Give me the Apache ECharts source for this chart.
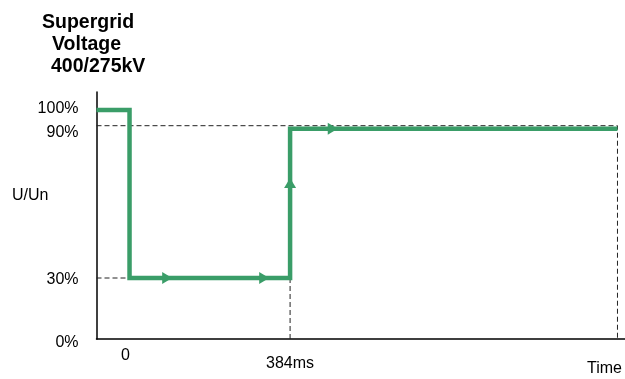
<!DOCTYPE html>
<html>
<head>
<meta charset="utf-8">
<script src="https://cdn.jsdelivr.net/npm/echarts@6/dist/echarts.min.js"></script>
<style>
  html, body { margin: 0; padding: 0; background: #fff; }
  #chart { width: 625px; height: 379px; }
</style>
</head>
<body>
<div id="chart"></div>
<script>
// voltage step profile (time in ms, voltage in % of Un)
const stepTimes = [-79, 0, 0, 384, 384, 1167]
const stepVoltage = [100, 100, 30, 30, 88.8, 88.8]

// direction arrows on the profile
const arrowTimes = [90, 322, 384, 486]
const arrowVoltage = [30, 30, 67.4, 88.8]
const arrowAngles = [-90, -90, 0, -90]

// dashed guide lines
const guide90Times = [-79, 1167, 1167]
const guide90Voltage = [90, 90, 0]
const guide30Times = [-79, 0]
const guide30Voltage = [30, 30]
const guide384Times = [384, 384]
const guide384Voltage = [30, 0]

const xTicks = [0, 384]
const xTickLabels = ['0', '384ms']
const yTicks = [0, 30, 90, 100]
const yTickLabels = ['0%', '30%', '90%', '100%']

// the drawing is schematic: levels are not spaced linearly
const yStopHeights = [0, 61, 213.3, 229]
function toAxis(p) {
    for (let i = 1; i < yTicks.length; i++) {
        if (p <= yTicks[i] || i === yTicks.length - 1) {
            const t = (p - yTicks[i - 1]) / (yTicks[i] - yTicks[i - 1])
            return yStopHeights[i - 1] + t * (yStopHeights[i] - yStopHeights[i - 1])
        }
    }
}
function pairs(xs, ys) {
    return xs.map((x, i) => [x, toAxis(ys[i])])
}

const green = '#3a9d68'
const font = 'Liberation Sans, Arial, sans-serif'

let myChart = echarts.init(document.getElementById('chart'))
const dashStyle = { color: '#222', width: 1, type: [5, 3] }
let option = {
    animation: false,
    title: [
        { text: 'Supergrid', left: 42, top: 12 },
        { text: 'Voltage', left: 52, top: 34 },
        { text: '400/275kV', left: 51, top: 56 }
    ].map(t => Object.assign(t, {
        padding: 0,
        textStyle: { fontFamily: font, fontSize: 19.5, fontWeight: 'bold', color: '#000', lineHeight: 21 }
    })),
    grid: { left: 96.5, right: 0, top: 92, bottom: 40, outerBoundsMode: 'none', containLabel: false },
    xAxis: {
        type: 'value',
        min: -79,
        max: 1185,
        splitLine: { show: false },
        axisTick: { show: false },
        axisLine: { show: true, onZero: false, lineStyle: { color: '#000', width: 1.5 } },
        axisLabel: {
            customValues: xTicks,
            margin: 9,
            fontFamily: font,
            fontSize: 16,
            color: '#000',
            formatter: function (v) {
                const i = xTicks.indexOf(v)
                return i === 0 ? '{a|' + xTickLabels[i] + '}' : '{b|' + xTickLabels[i] + '}'
            },
            rich: {
                a: { fontFamily: font, fontSize: 16, color: '#000', lineHeight: 16, padding: [0, 8, 0, 0] },
                b: { fontFamily: font, fontSize: 16, color: '#000', lineHeight: 32 }
            }
        },
        name: 'Time',
        nameLocation: 'end',
        nameGap: -3,
        nameMoveOverlap: false,
        nameTextStyle: {
            fontFamily: font, fontSize: 16, color: '#000',
            align: 'right', verticalAlign: 'top', padding: [22, 0, 0, 0]
        }
    },
    yAxis: {
        type: 'value',
        min: 0,
        max: 247,
        splitLine: { show: false },
        axisTick: { show: false },
        axisLine: { show: true, onZero: false, lineStyle: { color: '#000', width: 1.5 } },
        axisLabel: {
            customValues: yTicks.map(toAxis),
            margin: 18,
            formatter: function (v) {
                let i = 0
                yTicks.forEach((t, k) => { if (Math.abs(toAxis(t) - v) < 0.01) i = k })
                const style = ['d', 'n', 'd2', 'u'][i]
                return '{' + style + '|' + yTickLabels[i] + '}'
            },
            rich: {
                n: { fontFamily: font, fontSize: 16, color: '#000', padding: [4, 0, 0, 0] },
                d: { fontFamily: font, fontSize: 16, color: '#000', padding: [8, 0, 0, 0] },
                d2: { fontFamily: font, fontSize: 16, color: '#000', padding: [14, 0, 0, 0] },
                u: { fontFamily: font, fontSize: 16, color: '#000', padding: [0, 0, 3, 0] }
            }
        },
        name: 'U/Un',
        nameLocation: 'middle',
        nameRotate: 0,
        nameGap: 48,
        nameMoveOverlap: false,
        nameTextStyle: {
            fontFamily: font, fontSize: 16, color: '#000',
            verticalAlign: 'bottom', lineHeight: 40
        }
    },
    series: [
        {
            type: 'line', data: pairs(guide90Times, guide90Voltage), symbol: 'none',
            lineStyle: dashStyle, z: 1
        },
        {
            type: 'line', data: pairs(guide30Times, guide30Voltage), symbol: 'none',
            lineStyle: dashStyle, z: 1
        },
        {
            type: 'line', data: pairs(guide384Times, guide384Voltage), symbol: 'none',
            lineStyle: dashStyle, z: 1
        },
        {
            name: 'U/Un',
            type: 'line',
            data: pairs(stepTimes, stepVoltage),
            symbol: 'none',
            lineStyle: { color: green, width: 4.5, join: 'miter', cap: 'butt' },
            z: 3
        },
        {
            type: 'scatter',
            data: arrowTimes.map((t, i) => ({
                value: [t, toAxis(arrowVoltage[i])],
                symbolRotate: arrowAngles[i]
            })),
            symbol: 'triangle',
            symbolSize: [12, 10],
            itemStyle: { color: green, opacity: 1 },
            z: 4
        }
    ]
}
myChart.setOption(option)
window.addEventListener('resize', function () {
    myChart.resize()
})
</script>
</body>
</html>
